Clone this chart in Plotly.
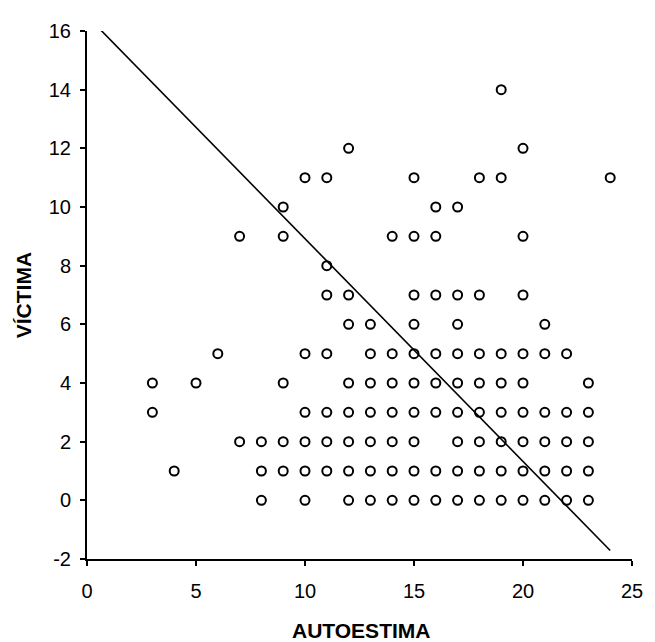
import plotly.graph_objects as go

# Scatter data: AUTOESTIMA (x) vs VÍCTIMA (y)
row_y0 = [8, 10, 12, 13, 14, 15, 16, 17, 18, 19, 20, 21, 22, 23]
row_y1 = [4, 8, 9, 10, 11, 12, 13, 14, 15, 16, 17, 18, 19, 20, 21, 22, 23]
row_y2 = [7, 8, 9, 10, 11, 12, 13, 14, 15, 17, 18, 19, 20, 21, 22, 23]
row_y3 = [3, 10, 11, 12, 13, 14, 15, 16, 17, 18, 19, 20, 21, 22, 23]
row_y4 = [3, 5, 9, 12, 13, 14, 15, 16, 17, 18, 19, 20, 23]
row_y5 = [6, 10, 11, 13, 14, 15, 16, 17, 18, 19, 20, 21, 22]
row_y6 = [12, 13, 15, 17, 21]
row_y7 = [11, 12, 15, 16, 17, 18, 20]
row_y8 = [11]
row_y9 = [7, 9, 14, 15, 16, 20]
row_y10 = [9, 16, 17]
row_y11 = [10, 11, 15, 18, 19, 24]
row_y12 = [12, 20]
row_y14 = [19]

rows = {0: row_y0, 1: row_y1, 2: row_y2, 3: row_y3, 4: row_y4, 5: row_y5,
        6: row_y6, 7: row_y7, 8: row_y8, 9: row_y9, 10: row_y10,
        11: row_y11, 12: row_y12, 14: row_y14}

# Fitted line endpoints (as drawn)
line_x = [0.45, 24.0]
line_y = [16.17, -1.71]

x_ticks = [0, 5, 10, 15, 20, 25]
x_tick_text = ["0", "5", "10", "15", "20", "25"]
y_ticks = [-2, 0, 2, 4, 6, 8, 10, 12, 14, 16]
y_tick_text = ["-2", "0", "2", "4", "6", "8", "10", "12", "14", "16"]

xs, ys = [], []
for yv, xl in rows.items():
    for xv in xl:
        xs.append(xv)
        ys.append(yv)

FONT = "Arial, Liberation Sans, Helvetica, sans-serif"

fig = go.Figure()
fig.add_trace(go.Scatter(
    x=line_x, y=line_y, mode="lines",
    line=dict(color="black", width=1.6), showlegend=False, hoverinfo="skip"))
fig.add_trace(go.Scatter(
    x=xs, y=ys, mode="markers",
    marker=dict(symbol="circle-open", size=9, color="black",
                line=dict(color="black", width=2)),
    showlegend=False, cliponaxis=False))

axis_common = dict(showline=True, linecolor="black", linewidth=2,
                   ticks="outside", ticklen=5, tickwidth=1.5, tickcolor="black",
                   showgrid=False, zeroline=False,
                   tickfont=dict(family=FONT, size=20, color="black"))

fig.update_xaxes(range=[0, 25], tickvals=x_ticks, ticktext=x_tick_text,
                 ticklabelstandoff=8, **axis_common)
fig.update_yaxes(range=[-2, 16], tickvals=y_ticks, ticktext=y_tick_text,
                 ticklabelstandoff=5, **axis_common)

fig.add_annotation(text="<b>AUTOESTIMA</b>", xref="paper", yref="paper",
                   x=0.503, y=-0.136, xanchor="center", yanchor="middle",
                   showarrow=False, font=dict(family=FONT, size=21, color="black"))
fig.add_annotation(text="<b>VÍCTIMA</b>", xref="paper", yref="paper",
                   x=-0.117, y=0.5, xanchor="center", yanchor="middle",
                   textangle=-90, showarrow=False,
                   font=dict(family=FONT, size=21, color="black"))

fig.update_layout(width=647, height=634,
                  margin=dict(l=79, r=13, t=15, b=83),
                  plot_bgcolor="white", paper_bgcolor="white")

fig.write_html("out.html")
